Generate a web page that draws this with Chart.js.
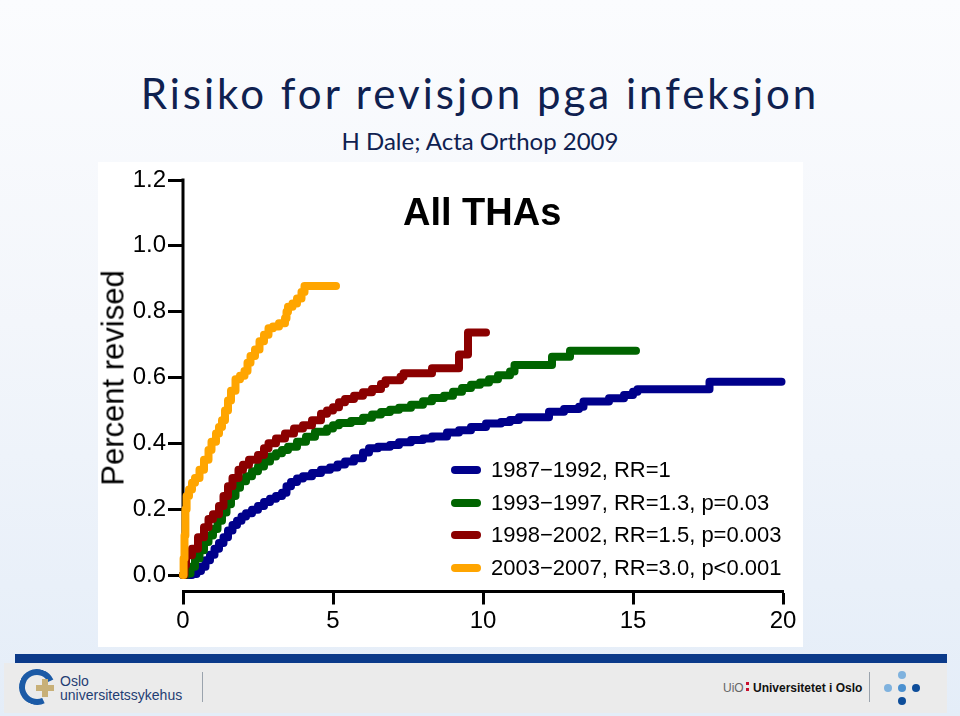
<!DOCTYPE html>
<html>
<head>
<meta charset="utf-8">
<script src="https://cdn.jsdelivr.net/npm/chart.js@4"></script>
<style>
  html, body { margin: 0; padding: 0; }
  body {
    width: 960px; height: 716px; position: relative; overflow: hidden;
    background: linear-gradient(#fbfcfe 0%, #f3f6fb 45%, #e4edf8 100%);
    font-family: "Liberation Sans", Arial, sans-serif;
  }
  .abs { position: absolute; white-space: nowrap; }
  #title { left: 0; width: 960px; text-align: center; top: 72px; font-family: Lato, "Open Sans", sans-serif; font-size: 42px; line-height: 42px; letter-spacing: 3px; color: #0f2150; }
  #subtitle { left: 0; width: 960px; text-align: center; top: 129px; font-family: Lato, "Open Sans", sans-serif; font-size: 24px; line-height: 24px; color: #0f2150; }
  #box { left: 98px; top: 162px; width: 705px; height: 485px; background: #fff; }
  #plotTitle { left: 403px; top: 192px; font-weight: bold; font-size: 38px; line-height: 40px; color: #000; }
  #ylab { left: 113px; top: 378px; font-size: 31px; line-height: 31px; color: #000; transform: translate(-50%, -50%) rotate(-90deg); }
  #legend { left: 451px; top: 454px; font-size: 22px; color: #000; }
  #legend .row { height: 32.5px; display: flex; align-items: center; }
  #legend .sw { width: 30px; height: 8px; border-radius: 4px; margin-right: 10px; }
  #bar { left: 15px; top: 654px; width: 932px; height: 9px; background: #0b3a8a; }
  #band { left: 4px; top: 663px; width: 943px; height: 50px; background: #ebebeb; }
  .sep { width: 1px; background: #9aa3ad; }
</style>
</head>
<body>
<div id="title" class="abs">Risiko for revisjon pga infeksjon</div>
<div id="subtitle" class="abs">H Dale; Acta Orthop 2009</div>
<div id="box" class="abs"><canvas id="myChart"></canvas></div>
<div id="plotTitle" class="abs">All THAs</div>
<div id="ylab" class="abs">Percent revised</div>
<div id="legend" class="abs"></div>

<div id="bar" class="abs"></div>
<div id="band" class="abs"></div>
<!-- OUS logo -->
<div class="abs" style="left:19px;top:669px;width:24px;height:24px;border:6px solid #1b5aa6;border-right-color:transparent;border-radius:50%;transform:rotate(20deg);"></div>
<div class="abs" style="left:36px;top:685px;width:18px;height:6px;background:#c8b078;"></div>
<div class="abs" style="left:42px;top:679px;width:6px;height:18px;background:#c8b078;"></div>
<div class="abs" style="left:60px;top:674px;font-size:14px;line-height:14px;color:#1f3d73;">Oslo</div>
<div class="abs" style="left:60px;top:688px;font-size:14px;line-height:14px;color:#1f3d73;">universitetssykehus</div>
<div class="abs sep" style="left:202px;top:672px;height:30px;"></div>
<!-- UiO logo -->
<div class="abs" style="left:723px;top:681px;font-size:12px;line-height:14px;color:#666;">UiO</div>
<div class="abs" style="left:746px;top:682px;width:3px;height:3px;background:#c8102e;"></div>
<div class="abs" style="left:746px;top:688px;width:3px;height:3px;background:#c8102e;"></div>
<div class="abs" style="left:753px;top:681px;font-size:12px;line-height:14px;font-weight:bold;color:#111;">Universitetet i Oslo</div>
<div class="abs sep" style="left:869px;top:672px;height:30px;"></div>
<div class="abs" style="left:898px;top:671px;width:8px;height:8px;border-radius:50%;background:#7fb2de;"></div>
<div class="abs" style="left:884px;top:684px;width:8px;height:8px;border-radius:50%;background:#7fb2de;"></div>
<div class="abs" style="left:898px;top:684px;width:8px;height:8px;border-radius:50%;background:#4a90d0;"></div>
<div class="abs" style="left:912px;top:684px;width:8px;height:8px;border-radius:50%;background:#0d4d9a;"></div>
<div class="abs" style="left:898px;top:697px;width:8px;height:8px;border-radius:50%;background:#0d4d9a;"></div>

<script>
// periode-etiketter og farger
const labels = [
  "1987\u22121992, RR=1",
  "1993\u22121997, RR=1.3, p=0.03",
  "1998\u22122002, RR=1.5, p=0.003",
  "2003\u22122007, RR=3.0, p<0.001"
];
const colors = ["#00008B", "#006400", "#8B0000", "#FFA500"];

const xTicks = [0, 5, 10, 15, 20];
const yTicks = [0, 0.2, 0.4, 0.6, 0.8, 1.0, 1.2];

// år etter operasjon / prosent revidert
const blueT = [0, 0.3, 0.45, 0.6, 0.75, 0.9, 1.05, 1.2, 1.35, 1.5, 1.65, 1.8, 1.95, 2.1, 2.3, 2.5, 2.7, 2.9, 3.1, 3.3, 3.45, 3.6, 3.8, 4.0, 4.3, 4.6, 4.9, 5.15, 5.4, 5.7, 6.0, 6.2, 6.5, 6.9, 7.2, 7.6, 8.0, 8.3, 8.8, 9.2, 9.6, 10.1, 10.6, 10.9, 11.2, 12.2, 12.7, 13.2, 13.35, 14.2, 14.7, 15.0, 15.15, 17.55, 19.95];
const blueV = [0, 0.003, 0.012, 0.025, 0.045, 0.062, 0.08, 0.097, 0.115, 0.135, 0.152, 0.165, 0.178, 0.188, 0.198, 0.21, 0.222, 0.232, 0.24, 0.25, 0.27, 0.283, 0.293, 0.3, 0.31, 0.32, 0.327, 0.336, 0.345, 0.355, 0.372, 0.385, 0.39, 0.395, 0.403, 0.41, 0.415, 0.421, 0.433, 0.44, 0.45, 0.46, 0.465, 0.471, 0.479, 0.496, 0.504, 0.511, 0.527, 0.537, 0.547, 0.557, 0.564, 0.587, 0.587];

const greenT = [0, 0.1, 0.25, 0.4, 0.55, 0.7, 0.85, 1.0, 1.15, 1.3, 1.45, 1.6, 1.75, 1.9, 2.1, 2.3, 2.5, 2.7, 2.9, 3.1, 3.3, 3.5, 3.8, 4.1, 4.4, 4.8, 5.0, 5.2, 5.6, 6.0, 6.3, 6.6, 6.9, 7.2, 7.6, 8.0, 8.3, 8.7, 9.0, 9.3, 9.6, 9.9, 10.2, 10.5, 10.9, 11.05, 12.3, 12.9, 15.1];
const greenV = [0, 0.005, 0.025, 0.05, 0.075, 0.1, 0.12, 0.14, 0.165, 0.19, 0.215, 0.24, 0.265, 0.285, 0.3, 0.315, 0.33, 0.345, 0.36, 0.37, 0.38, 0.39, 0.405, 0.42, 0.435, 0.445, 0.455, 0.462, 0.468, 0.478, 0.488, 0.495, 0.502, 0.508, 0.517, 0.528, 0.538, 0.545, 0.557, 0.568, 0.578, 0.585, 0.595, 0.607, 0.618, 0.638, 0.663, 0.681, 0.681];

const redT = [0, 0.05, 0.1, 0.3, 0.5, 0.7, 0.85, 1.0, 1.2, 1.35, 1.5, 1.65, 1.85, 2.0, 2.2, 2.5, 2.7, 2.85, 3.1, 3.4, 3.7, 4.0, 4.3, 4.6, 4.8, 5.0, 5.2, 5.4, 5.7, 6.0, 6.3, 6.6, 6.75, 7.25, 7.35, 8.3, 9.2, 9.5, 10.1];
const redV = [0, 0.03, 0.06, 0.08, 0.115, 0.145, 0.17, 0.185, 0.21, 0.24, 0.27, 0.295, 0.32, 0.335, 0.35, 0.365, 0.385, 0.4, 0.415, 0.43, 0.445, 0.455, 0.47, 0.49, 0.5, 0.51, 0.525, 0.535, 0.545, 0.555, 0.565, 0.58, 0.592, 0.602, 0.613, 0.628, 0.67, 0.737, 0.737];

const orangeT = [0, 0.02, 0.05, 0.08, 0.12, 0.2, 0.3, 0.4, 0.55, 0.7, 0.85, 0.95, 1.1, 1.2, 1.3, 1.4, 1.5, 1.6, 1.75, 1.9, 2.05, 2.15, 2.25, 2.4, 2.55, 2.7, 2.85, 3.0, 3.2, 3.4, 3.45, 3.5, 3.65, 3.8, 3.95, 4.05, 5.1];
const orangeV = [0, 0.05, 0.12, 0.2, 0.24, 0.26, 0.28, 0.295, 0.32, 0.35, 0.38, 0.405, 0.43, 0.45, 0.47, 0.5, 0.53, 0.56, 0.595, 0.605, 0.62, 0.645, 0.665, 0.685, 0.71, 0.73, 0.75, 0.755, 0.765, 0.78, 0.8, 0.815, 0.825, 0.84, 0.86, 0.878, 0.878];

const series = [[blueT, blueV], [greenT, greenV], [redT, redV], [orangeT, orangeV]];

// y-aksen stopper ved 0.0, x-aksen ligger litt under
const yAxisLine = {
  id: 'yAxisLine',
  beforeDatasetsDraw(chart) {
    const y = chart.scales.y, c = chart.ctx;
    const x = chart.chartArea.left;
    c.save();
    c.strokeStyle = '#000';
    c.lineWidth = 3;
    c.beginPath();
    c.moveTo(x, y.getPixelForValue(1.2) - 1.5);
    c.lineTo(x, y.getPixelForValue(0) + 1.5);
    c.stroke();
    c.restore();
  }
};

const tickFont = { family: "'Liberation Sans', Arial, sans-serif", size: 24 };

const ctx = document.getElementById("myChart");
const chart = new Chart(ctx, {
  type: 'line',
  data: {
    datasets: series.map((s, i) => ({
      label: labels[i],
      data: s[0].map((t, j) => ({ x: t, y: s[1][j] })),
      borderColor: colors[i],
      backgroundColor: colors[i],
      borderWidth: 8,
      borderCapStyle: 'round',
      borderJoinStyle: 'round',
      stepped: true,
      pointRadius: 0,
      fill: false,
      clip: false
    })).reverse()
  },
  options: {
    responsive: true,
    maintainAspectRatio: false,
    animation: false,
    layout: { padding: { top: 18, right: 20, left: 0, bottom: 0 } },
    scales: {
      x: {
        type: 'linear', min: 0, max: 20,
        afterBuildTicks: s => { s.ticks = xTicks.map(v => ({ value: v })); },
        afterFit: s => { s.height = 55.5; },
        grid: { drawOnChartArea: false, drawTicks: true, tickLength: 13, tickWidth: 3, tickColor: '#000' },
        border: { display: true, width: 3, color: '#000' },
        ticks: { font: tickFont, color: '#000', padding: 2, maxRotation: 0 }
      },
      y: {
        type: 'linear', min: -0.05, max: 1.2,
        afterBuildTicks: s => { s.ticks = yTicks.map(v => ({ value: v })); },
        afterFit: s => { s.width = 85; },
        grid: { drawOnChartArea: false, drawTicks: true, tickLength: 15, tickWidth: 3, tickColor: '#000' },
        border: { display: false },
        ticks: { font: tickFont, color: '#000', padding: 2, callback: v => v.toFixed(1) }
      }
    },
    plugins: {
      legend: { display: false },
      tooltip: { enabled: false }
    }
  },
  plugins: [yAxisLine]
});

// forklaring
const leg = document.getElementById('legend');
labels.forEach((l, i) => {
  const row = document.createElement('div');
  row.className = 'row';
  const sw = document.createElement('span');
  sw.className = 'sw';
  sw.style.background = colors[i];
  const tx = document.createElement('span');
  tx.textContent = l;
  row.appendChild(sw);
  row.appendChild(tx);
  leg.appendChild(row);
});
</script>
</body>
</html>
